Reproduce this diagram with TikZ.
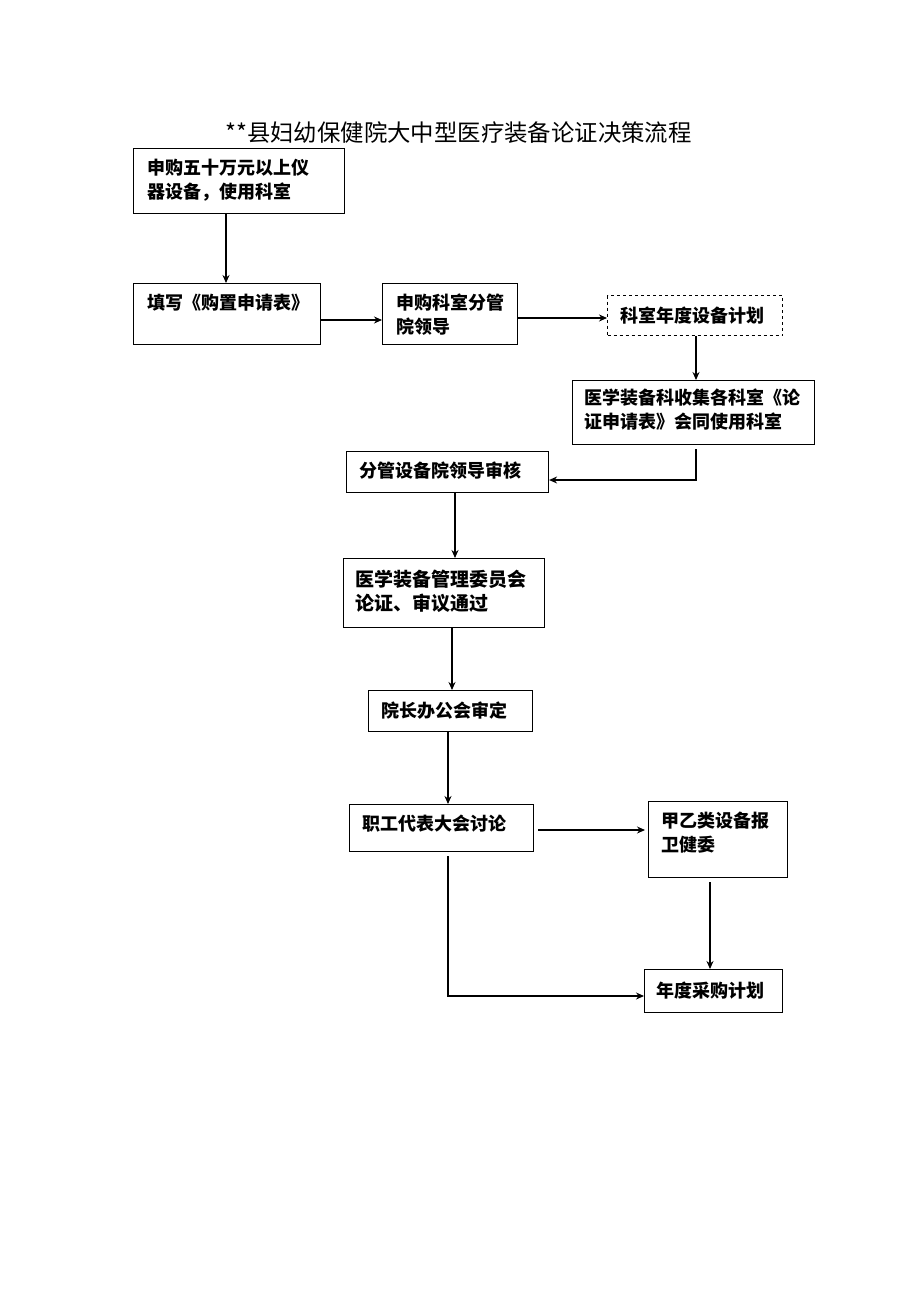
\documentclass[tikz,border=0pt]{standalone}
\usepackage{fontspec}
\setmainfont{Noto Sans CJK SC}
\usetikzlibrary{arrows.meta}
\tikzset{
  box/.style={draw, line width=1.1pt, rectangle, anchor=north west, inner sep=0pt},
  dbox/.style={box, dashed},
  txt/.style={anchor=north west, align=left, inner sep=0pt, font=\fontsize{18}{24}\selectfont\bfseries},
  arr/.style={line width=1.1pt, -{Stealth[length=8pt,width=7pt]}},
}
\begin{document}
\begin{tikzpicture}[x=1pt,y=-1pt]
\useasboundingbox (0,0) rectangle (920,1301);
\node[anchor=base west, inner sep=0pt, font=\fontsize{23.4}{28}\selectfont] (title) at (225,141) {**县妇幼保健院大中型医疗装备论证决策流程};
% boxes
\node[box, minimum width=211pt, minimum height=65pt] (A) at (133,148) {};
\node[txt] (At) at (147,159) {申购五十万元以上仪\\器设备，使用科室};
\node[box, minimum width=187pt, minimum height=61pt] (B) at (133,283) {};
\node[txt] (Bt) at (147,294) {填写《购置申请表》};
\node[box, minimum width=135pt, minimum height=61pt] (C) at (382,283) {};
\node[txt] (Ct) at (396,294) {申购科室分管\\院领导};
\node[dbox, minimum width=175pt, minimum height=40pt] (D) at (607,295) {};
\node[txt] (Dt) at (620,307) {科室年度设备计划};
\node[box, minimum width=242pt, minimum height=64pt] (E) at (572,380) {};
\node[txt] (Et) at (584,389) {医学装备科收集各科室《论\\证申请表》会同使用科室};
\node[box, minimum width=202pt, minimum height=41pt] (F) at (346,451) {};
\node[txt] (Ft) at (359,462) {分管设备院领导审核};
\node[box, minimum width=201pt, minimum height=69pt] (G) at (343,558) {};
\node[txt, font=\fontsize{19}{24}\selectfont\bfseries] (Gt) at (355,570) {医学装备管理委员会\\论证、审议通过};
\node[box, minimum width=164pt, minimum height=41pt] (H) at (368,690) {};
\node[txt] (Ht) at (381,702) {院长办公会审定};
\node[box, minimum width=184pt, minimum height=47pt] (I) at (349,804) {};
\node[txt] (It) at (362,815) {职工代表大会讨论};
\node[box, minimum width=139pt, minimum height=76pt] (J) at (648,801) {};
\node[txt] (Jt) at (661,812) {甲乙类设备报\\卫健委};
\node[box, minimum width=138pt, minimum height=43pt] (K) at (644,969) {};
\node[txt] (Kt) at (656,982) {年度采购计划};
% connectors
\coordinate (eb) at (696,480);
\coordinate (ib) at (448,996);
\draw[arr] (A.south -| 226,0) -- (B.north -| 226,0);
\draw[arr] (B.east |- 0,320) -- (C.west |- 0,320);
\draw[arr] (C.east |- 0,318) -- (D.west |- 0,318);
\draw[arr] (D.south -| 696,0) -- (E.north -| 696,0);
\draw[arr] ([yshift=-4pt]E.south -| 696,0) -- (eb) -- (F.east |- eb);
\draw[arr] (F.south -| 455,0) -- (G.north -| 455,0);
\draw[arr] (G.south -| 452,0) -- (H.north -| 452,0);
\draw[arr] (H.south -| 448,0) -- (I.north -| 448,0);
\draw[arr] ([xshift=4pt]I.east |- 0,830) -- ([xshift=-3pt]J.west |- 0,830);
\draw[arr] ([yshift=-4pt]J.south -| 710,0) -- (K.north -| 710,0);
\draw[arr] ([yshift=-4pt]I.south -| 448,0) -- (ib) -- (K.west |- ib);
\end{tikzpicture}
\end{document}
